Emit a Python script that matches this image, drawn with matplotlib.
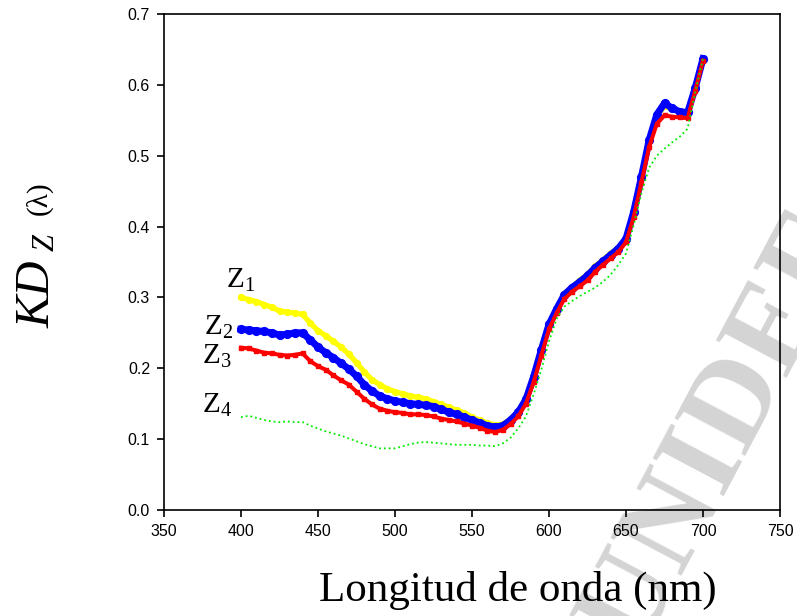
import matplotlib
matplotlib.use("Agg")
import matplotlib.pyplot as plt
import numpy as np

plt.rcParams["font.family"] = "Liberation Sans"
plt.rcParams["mathtext.fontset"] = "custom"
plt.rcParams["mathtext.rm"] = "Liberation Serif"
plt.rcParams["mathtext.it"] = "Liberation Serif:italic"

# wavelength (nm), 5 nm steps
wl = list(range(400, 701, 5))

kd_z1 = [0.300, 0.297, 0.294, 0.290, 0.286, 0.281, 0.279, 0.278, 0.276, 0.264,
         0.253, 0.246, 0.238, 0.230, 0.220, 0.208, 0.195, 0.184, 0.177, 0.171,
         0.167, 0.164, 0.161, 0.159, 0.157, 0.153, 0.149, 0.145, 0.141, 0.137,
         0.131, 0.127, 0.123, 0.120, 0.121, 0.128, 0.139, 0.158, 0.190, 0.228,
         0.262, 0.285, 0.305, 0.315, 0.324, 0.333, 0.344, 0.353, 0.362, 0.370,
         0.382, 0.420, 0.469, 0.521, 0.556, 0.570, 0.566, 0.561, 0.560, 0.595,
         0.637]

kd_z2 = [0.255, 0.254, 0.253, 0.252, 0.250, 0.247, 0.248, 0.250, 0.250, 0.240,
         0.230, 0.222, 0.215, 0.207, 0.199, 0.189, 0.177, 0.168, 0.161, 0.157,
         0.154, 0.152, 0.150, 0.149, 0.148, 0.146, 0.142, 0.138, 0.135, 0.131,
         0.127, 0.123, 0.119, 0.117, 0.119, 0.127, 0.138, 0.156, 0.188, 0.226,
         0.262, 0.284, 0.304, 0.314, 0.322, 0.331, 0.342, 0.351, 0.360, 0.369,
         0.383, 0.421, 0.470, 0.522, 0.558, 0.574, 0.567, 0.562, 0.561, 0.596,
         0.637]

kd_z3 = [0.229, 0.228, 0.225, 0.222, 0.221, 0.219, 0.218, 0.219, 0.221, 0.210,
         0.203, 0.198, 0.190, 0.183, 0.177, 0.167, 0.157, 0.149, 0.143, 0.140,
         0.138, 0.137, 0.135, 0.135, 0.134, 0.132, 0.129, 0.127, 0.125, 0.122,
         0.119, 0.116, 0.112, 0.110, 0.113, 0.121, 0.132, 0.150, 0.180, 0.218,
         0.255, 0.278, 0.298, 0.308, 0.316, 0.324, 0.336, 0.346, 0.355, 0.364,
         0.378, 0.413, 0.462, 0.512, 0.545, 0.557, 0.555, 0.554, 0.553, 0.592,
         0.634]

kd_z4 = [0.131, 0.133, 0.130, 0.127, 0.125, 0.124, 0.125, 0.124, 0.124, 0.119,
         0.115, 0.111, 0.108, 0.105, 0.101, 0.097, 0.093, 0.090, 0.087, 0.087,
         0.087, 0.090, 0.093, 0.095, 0.096, 0.095, 0.094, 0.093, 0.092, 0.092,
         0.092, 0.091, 0.091, 0.090, 0.094, 0.102, 0.115, 0.132, 0.163, 0.198,
         0.238, 0.270, 0.287, 0.295, 0.302, 0.308, 0.314, 0.322, 0.332, 0.346,
         0.362, 0.402, 0.447, 0.483, 0.500, 0.510, 0.519, 0.527, 0.538, 0.590,
         0.637]

xticks = [350, 400, 450, 500, 550, 600, 650, 700, 750]
yticks = [0.0, 0.1, 0.2, 0.3, 0.4, 0.5, 0.6, 0.7]

W, H = 797, 616
fig = plt.figure(figsize=(W / 100, H / 100), dpi=100)
ax = fig.add_axes([164 / W, 106 / H, 616 / W, 496 / H])
ax.set_facecolor("none")

# watermark behind the axes
fig.text(722 / W, 1 - 432 / H, "UNIDEF", rotation=62, rotation_mode="anchor",
         ha="center", va="center", fontsize=88, fontweight="bold",
         family="Liberation Serif", color="#d4d4d4", zorder=-5)

ax.plot(wl, kd_z1, color="#ffff00", lw=3.8, marker="o", ms=4.2, zorder=2)
ax.plot(wl, kd_z2, color="#0000ff", lw=5, marker="o", ms=5.6, zorder=3)
ax.plot(wl, kd_z3, color="#ff0000", lw=2.9, marker="s", ms=3.2, zorder=4)
ax.plot(wl, kd_z4, color="#00ee00", lw=1.3, ls=":", zorder=5)

ax.set_xlim(350, 750)
ax.set_ylim(0, 0.7)
ax.set_xticks(xticks)
ax.set_yticks(yticks)
ax.set_yticklabels([f"{v:.1f}" for v in yticks])
ax.tick_params(direction="out", length=5, width=1.2, labelsize=11.5, pad=5)
for s in ax.spines.values():
    s.set_linewidth(1.2)

zfont = dict(fontsize=21, family="Liberation Serif", ha="left", va="baseline")
ax.text(390.5, 0.313, r"Z$_1$", **zfont)
ax.text(376, 0.247, r"Z$_2$", **zfont)
ax.text(375, 0.207, r"Z$_3$", **zfont)
ax.text(375, 0.137, r"Z$_4$", **zfont)

fig.text(518 / W, 1 - 590 / H, "Longitud de onda (nm)", fontsize=31,
         family="Liberation Serif", ha="center", va="center")

# y label built from pieces: KD, subscript Z, (lambda)
yl = dict(rotation=90, rotation_mode="anchor", ha="left", va="baseline")
fig.text(50 / W, 1 - 328 / H, "KD", fontsize=35, family="Liberation Serif",
         style="italic", **yl)
fig.text(54 / W, 1 - 251 / H, "Z", fontsize=22, family="Liberation Serif",
         style="italic", **yl)
fig.text(46 / W, 1 - 215 / H, "(λ)", fontsize=21, family="Liberation Serif", **yl)

fig.savefig("out.png", dpi=100)
